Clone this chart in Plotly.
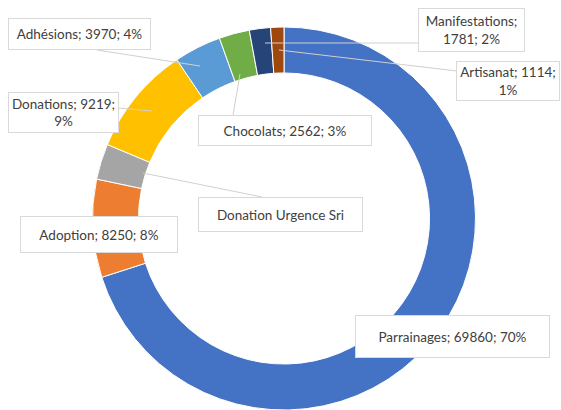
import plotly.graph_objects as go

W, H = 561, 410

# données (ordre des tranches, sens horaire depuis midi)
categories = ["Parrainages", "Adoption", "Donation Urgence Sri", "Donations",
              "Adhésions", "Chocolats", "Manifestations", "Artisanat"]
values = [69860, 8250, 3000, 9219, 3970, 2562, 1781, 1114]
colors = ["#4472C4", "#ED7D31", "#A5A5A5", "#FFC000",
          "#5B9BD5", "#70AD47", "#264478", "#9E480E"]

# format des étiquettes (Excel style "nom; valeur; pourcentage")
label_fmt = ["{n}; {v}; {p}%", "{n}; {v}; {p}%", "{n}", "{n}; {v};<br>{p}%",
             "{n}; {v}; {p}%", "{n}; {v}; {p}%", "{n};<br>{v}; {p}%", "{n}; {v};<br>{p}%"]

# boîtes des étiquettes: centre x, centre y, largeur, hauteur (pixels)
boxes = [(452, 336, 195, 43), (99, 235, 158, 37), (280, 214, 165, 35), (63, 112, 111, 41),
         (79, 34, 143, 32), (285, 130, 174, 31), (471, 30, 107, 44), (508, 81, 104, 40)]
# lignes de rappel (x0, y0, x1, y1) en pixels, None = pas de ligne
leaders = [None, None, (143, 173, 262, 197), (118, 108, 152, 111),
           (97, 50, 200, 66), (233, 115, 240, 74), (265, 43, 418, 43), (279, 50, 457, 71)]

total = sum(values)

def px(x):
    return x / W

def py(y):
    return 1 - y / H

fig = go.Figure(go.Pie(
    labels=categories,
    values=values,
    hole=0.76,
    sort=False,
    direction="clockwise",
    rotation=0,
    marker=dict(colors=colors, line=dict(color="white", width=1)),
    textinfo="none",
    hoverinfo="label+value+percent",
    showlegend=False,
    domain=dict(x=[px(284 - 194), px(284 + 194)], y=[0, py(27)]),
))

shapes = []
for ln in leaders:
    if ln is None:
        continue
    x0, y0, x1, y1 = ln
    shapes.append(dict(type="line", xref="paper", yref="paper",
                       x0=px(x0), y0=py(y0), x1=px(x1), y1=py(y1),
                       line=dict(color="#D0D0D0", width=1)))

annotations = []
for name, v, fmt, (cx, cy, bw, bh) in zip(categories, values, label_fmt, boxes):
    p = round(v / total * 100)
    annotations.append(dict(
        x=px(cx), y=py(cy), xref="paper", yref="paper",
        xanchor="center", yanchor="middle",
        text=fmt.format(n=name, v=v, p=p),
        showarrow=False,
        width=bw - 2, height=bh - 2,
        bgcolor="white", bordercolor="#D9D9D9", borderwidth=1, borderpad=0,
        font=dict(family="Lato, Open Sans, sans-serif", size=13.5, color="#404040"),
    ))

fig.update_layout(
    width=W, height=H,
    margin=dict(l=0, r=0, t=0, b=0),
    paper_bgcolor="white",
    plot_bgcolor="white",
    shapes=shapes,
    annotations=annotations,
)

fig.write_html("out.html", config={"displayModeBar": False},
               post_script="document.body.style.margin='0px';")
